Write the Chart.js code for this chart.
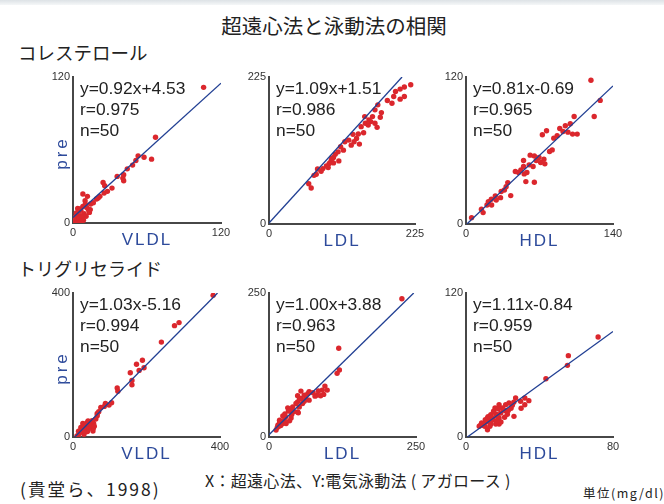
<!DOCTYPE html>
<html>
<head>
<meta charset="utf-8">
<script src="https://cdn.jsdelivr.net/npm/chart.js@4/dist/chart.umd.min.js"></script>
<style>
  html, body { margin: 0; padding: 0; background: #fff; }
  #page { position: relative; width: 664px; height: 504px; overflow: hidden; background: #fff;
          font-family: "Liberation Sans", Arial, sans-serif; }
  .band { position: absolute; left: 0; top: 0; width: 664px; height: 5px;
          background: linear-gradient(#dde2e6, #f5f7f8); }
  .jp { position: absolute; white-space: nowrap; color: #222;
        font-family: "Noto Sans CJK JP", sans-serif; }
  .cv { position: absolute; }
  .eq { position: absolute; white-space: nowrap; font-size: 17.4px; line-height: 21px; color: #222; }
  .xt { position: absolute; white-space: nowrap; font-size: 17px; line-height: 20px; color: #2d4a9b;
        letter-spacing: 2px; transform: translateX(-50%); }
  .yt { position: absolute; white-space: nowrap; font-size: 17px; line-height: 20px; color: #2d4a9b;
        letter-spacing: 3px; transform: translate(-50%, -50%) rotate(-90deg); }
</style>
</head>
<body>
<div id="page">
  <div class="band"></div>
  <div class="jp" style="left:334px;top:12px;font-size:20.5px;line-height:26px;transform:translateX(-50%);">超遠心法と泳動法の相関</div>
  <div class="jp" style="left:18px;top:40px;font-size:18.5px;line-height:24px;">コレステロール</div>
  <div class="jp" style="left:18px;top:256px;font-size:18px;line-height:24px;">トリグリセライド</div>
  <div class="jp" style="left:20px;top:477px;font-size:17.5px;line-height:24px;letter-spacing:2px;">(貴堂ら、1998)</div>
  <div class="jp" style="left:205px;top:469px;font-size:16px;line-height:22px;letter-spacing:0.3px;">X：超遠心法、Y:電気泳動法 ( アガロース )</div>
  <div class="jp" style="left:583px;top:483px;font-size:12.5px;line-height:20px;letter-spacing:1.5px;">単位(mg/dl)</div>
  <div id="panels"></div>
</div>
<script>
// Cholesterol, VLDL fraction
const cholVldlX = [105.9, 66.9, 52.8, 51.0, 57.6, 63.7, 48.3, 41.1, 35.8, 40.4,
                   41.1, 24.4, 25.7, 31.6, 27.9, 25.2, 21.8, 19.1, 8.0, 11.7,
                   9.8, 14.3, 8.0, 11.1, 6.4, 13.3, 4.5, 9.0, 3.2, 6.4,
                   10.6, 1.9, 4.5, 1.1, 3.2, 5.8, 1.9, 16.5, 5.3, 7.2,
                   0.5, 12.5, 2.7, 8.5, 20.4, 14.0, 44.0, 10.0, 3.8, 7.0];
const cholVldlY = [111.5, 70.5, 55.2, 51.4, 54.1, 52.5, 47.6, 39.6, 38.3, 36.9,
                   34.7, 33.3, 30.6, 28.7, 26.0, 24.6, 21.9, 19.7, 23.8, 21.9,
                   18.3, 15.6, 13.7, 12.8, 10.4, 8.7, 9.6, 7.7, 6.8, 6.0,
                   5.5, 4.9, 3.6, 2.2, 1.4, 0.8, 0.5, 16.7, 11.5, 4.1,
                   3.3, 10.9, 8.2, 2.2, 20.5, 11.0, 44.5, 15.5, 12.0, 1.5];

// Cholesterol, LDL fraction
const cholLdlX = [218.4, 208.6, 202.1, 208.6, 202.1, 192.2, 182.4, 189.5, 167.7, 163.3,
                  159.5, 147.5, 171.5, 156.8, 163.3, 148.5, 142.0, 152.9, 166.6, 145.8,
                  137.6, 129.4, 134.9, 122.9, 126.7, 139.3, 131.1, 110.3, 106.5, 102.1,
                  99.4, 95.6, 107.6, 99.4, 92.8, 91.2, 83.0, 74.8, 80.3, 69.4,
                  61.2, 65.0, 195.0, 173.2, 154.0, 116.9, 114.7, 88.5, 72.8, 96.7];
const cholLdlY = [213.2, 209.6, 206.5, 195.2, 191.1, 195.2, 189.0, 184.9, 182.4, 174.7,
                  164.4, 164.4, 163.4, 156.7, 154.1, 154.1, 149.0, 151.5, 147.9, 139.7,
                  137.7, 137.2, 131.0, 128.4, 120.7, 122.3, 125.9, 118.2, 110.4, 106.8,
                  101.7, 96.6, 96.6, 93.5, 92.5, 86.3, 84.8, 84.2, 80.7, 74.5,
                  61.6, 55.0, 202.9, 170.5, 159.2, 125.9, 113.0, 88.9, 76.0, 100.2];

// Cholesterol, HDL fraction
const cholHdlX = [119.0, 127.8, 122.1, 103.0, 99.3, 94.6, 89.3, 97.1, 101.5, 105.9,
                  86.8, 76.7, 72.7, 79.6, 74.2, 75.1, 65.1, 61.1, 69.5, 66.9,
                  71.1, 54.8, 54.8, 60.1, 63.9, 50.1, 55.4, 58.0, 57.0, 65.1,
                  39.8, 36.6, 42.6, 32.9, 27.9, 24.1, 28.8, 24.4, 20.0, 14.7,
                  16.3, 5.3, 47.0, 52.3, 33.5, 21.3, 38.2, 83.6, 92.4, 82.1];
const cholHdlY = [117.3, 100.9, 87.8, 87.8, 81.8, 80.2, 78.0, 75.0, 73.4, 73.4,
                  72.0, 76.1, 72.8, 59.2, 52.9, 49.1, 55.6, 56.2, 54.3, 51.8,
                  50.2, 51.8, 46.9, 48.3, 46.9, 42.0, 40.9, 42.0, 34.6, 34.1,
                  33.8, 27.8, 23.2, 21.5, 22.9, 20.2, 19.6, 15.5, 15.5, 12.0,
                  9.3, 5.2, 42.8, 44.2, 26.5, 18.3, 30.5, 70.1, 75.5, 60.5];

// Triglyceride, VLDL fraction
const tgVldlX = [381.3, 288.6, 276.2, 240.5, 188.9, 172.8, 179.9, 193.3, 155.9, 160.4,
                 160.4, 120.3, 122.1, 88.2, 98.0, 75.7, 65.9, 65.9, 56.1, 39.2,
                 26.7, 21.4, 33.0, 46.3, 55.2, 39.2, 29.8, 10.7, 24.1, 44.5,
                 41.0, 49.9, 36.5, 54.3, 14.3, 18.0, 28.0, 32.0, 48.0, 58.0,
                 35.0, 22.0, 42.0, 62.0, 52.0, 70.0, 85.0, 105.0, 15.0, 30.0];
const tgVldlY = [393.5, 317.8, 309.3, 263.6, 213.1, 201.9, 185.0, 192.5, 178.5, 157.0,
                 144.9, 136.4, 127.1, 93.5, 88.8, 82.2, 65.4, 58.9, 37.4, 40.2,
                 37.4, 26.2, 26.2, 26.2, 24.3, 15.0, 7.5, 2.8, 18.7, 33.6,
                 44.9, 30.8, 21.5, 16.8, 4.5, 12.0, 30.0, 14.0, 40.0, 30.0,
                 36.0, 20.0, 22.0, 50.0, 45.0, 70.0, 85.0, 95.0, 16.0, 24.0];

// Triglyceride, LDL fraction
const tgLdlX = [119.7, 115.8, 90.6, 99.0, 82.2, 87.8, 68.2, 54.3, 59.8, 48.7,
                62.6, 54.3, 68.2, 48.7, 57.0, 45.9, 40.3, 31.9, 51.5, 48.7,
                37.5, 28.0, 23.5, 37.5, 17.9, 23.5, 15.1, 17.9, 226.0, 118.6,
                95.1, 78.3, 38.6, 33.0, 29.1, 16.8, 14.0, 12.0, 84.0, 75.0,
                66.0, 60.0, 42.0, 35.0, 26.0, 20.0, 52.0, 93.0, 27.0, 49.8];
const tgLdlY = [116.3, 110.5, 81.4, 81.4, 72.7, 71.5, 78.5, 79.7, 72.7, 71.5,
                66.9, 66.9, 64.0, 61.0, 58.1, 58.1, 52.3, 50.6, 52.3, 43.6,
                46.5, 34.9, 36.6, 33.1, 29.1, 23.3, 20.3, 25.0, 240.1, 154.1,
                88.4, 70.9, 39.0, 45.0, 23.3, 18.6, 16.3, 12.0, 80.0, 77.0,
                75.0, 62.0, 44.0, 28.0, 29.0, 20.0, 66.0, 74.0, 40.0, 41.9];

// Triglyceride, HDL fraction
const tgHdlX = [34.2, 32.0, 27.0, 29.7, 23.4, 21.6, 18.0, 15.8, 19.8, 25.2,
                21.6, 18.9, 16.2, 13.5, 11.7, 14.4, 18.0, 10.8, 8.1, 13.5,
                16.2, 18.0, 26.1, 11.7, 7.2, 32.0, 71.9, 55.7, 55.2, 43.5,
                10.3, 8.5, 30.0, 12.5, 14.0, 20.5, 22.5, 17.0, 24.5, 9.5,
                26.0, 19.0, 15.0, 12.0, 21.0, 16.5, 23.0, 10.5, 13.0, 17.5];
const tgHdlY = [30.3, 32.5, 32.5, 29.7, 28.3, 26.9, 26.9, 24.2, 24.2, 26.4,
                21.9, 20.0, 19.2, 18.6, 15.8, 15.8, 15.8, 13.1, 10.3, 10.8,
                10.8, 10.8, 17.2, 6.1, 8.9, 26.9, 83.3, 67.8, 59.7, 48.6,
                8.9, 11.7, 24.0, 12.5, 14.0, 22.5, 19.0, 17.5, 24.0, 9.5,
                29.0, 12.5, 21.5, 17.0, 16.5, 13.5, 22.0, 14.5, 9.0, 23.5];

// Axis ranges, regression results and fraction names, one entry per panel
const xMax = [120, 225, 140, 400, 250, 80];
const yMax = [120, 225, 120, 400, 250, 120];
const slopes = [0.92, 1.09, 0.81, 1.03, 1.00, 1.11];
const intercepts = [4.53, 1.51, -0.69, -5.16, 3.88, -0.84];
const rValues = ['0.975', '0.986', '0.965', '0.994', '0.963', '0.959'];
const nValues = [50, 50, 50, 50, 50, 50];
const fractions = ['VLDL', 'LDL', 'HDL', 'VLDL', 'LDL', 'HDL'];

const seriesX = [cholVldlX, cholLdlX, cholHdlX, tgVldlX, tgLdlX, tgHdlX];
const seriesY = [cholVldlY, cholLdlY, cholHdlY, tgVldlY, tgLdlY, tgHdlY];

// Plot-area boxes on the page (left, top, width, height)
const boxes = [
  { l: 73,  t: 77,  w: 148, h: 146 },
  { l: 269, t: 77,  w: 146, h: 147 },
  { l: 466, t: 77,  w: 147, h: 147 },
  { l: 73,  t: 293, w: 147, h: 144 },
  { l: 269, t: 293, w: 147, h: 144 },
  { l: 466, t: 293, w: 147, h: 144 }
];

const Y_AXIS_W = 32, X_AXIS_H = 20, PAD_TOP = 10, PAD_RIGHT = 16;
const AXIS_COLOR = '#474747';
const POINT_COLOR = '#db272d';
const LINE_COLOR = '#213f93';

const holder = document.getElementById('panels');
const page = document.getElementById('page');

function addDiv(cls, text, style) {
  const d = document.createElement('div');
  d.className = cls;
  d.textContent = text;
  Object.assign(d.style, style);
  page.appendChild(d);
  return d;
}

// Fitted line y = a x + b, kept inside the plotted range
function fitLine(a, b, xm, ym) {
  const x0 = Math.max(0, -b / a);
  const x1 = Math.min(xm, (ym - b) / a);
  return [{ x: x0, y: a * x0 + b }, { x: x1, y: a * x1 + b }];
}

boxes.forEach((bx, i) => {
  const cv = document.createElement('canvas');
  const cw = Y_AXIS_W + bx.w + PAD_RIGHT;
  const ch = PAD_TOP + bx.h + X_AXIS_H;
  cv.width = cw; cv.height = ch;
  cv.className = 'cv';
  cv.style.left = (bx.l - Y_AXIS_W) + 'px';
  cv.style.top = (bx.t - PAD_TOP) + 'px';
  cv.style.width = cw + 'px';
  cv.style.height = ch + 'px';
  holder.appendChild(cv);

  const pts = seriesX[i].map((x, k) => ({ x: x, y: seriesY[i][k] }));
  const xm = xMax[i], ym = yMax[i];
  const tickFont = { family: '"Liberation Sans", Arial, sans-serif', size: 11 };

  new Chart(cv, {
    type: 'scatter',
    data: {
      datasets: [
        {
          data: fitLine(slopes[i], intercepts[i], xm, ym),
          showLine: true,
          borderColor: LINE_COLOR,
          borderWidth: 1.3,
          pointRadius: 0,
          pointHoverRadius: 0,
          order: 0
        },
        {
          data: pts,
          backgroundColor: POINT_COLOR,
          borderWidth: 0,
          pointRadius: 2.7,
          pointHoverRadius: 2.7,
          order: 1
        }
      ]
    },
    options: {
      responsive: false,
      animation: false,
      devicePixelRatio: 1,
      events: [],
      layout: { padding: { top: PAD_TOP, right: PAD_RIGHT, left: 0, bottom: 0 } },
      plugins: { legend: { display: false }, tooltip: { enabled: false } },
      scales: {
        x: {
          type: 'linear', min: 0, max: xm,
          grid: { display: false, drawTicks: false },
          border: { display: true, color: AXIS_COLOR, width: 2 },
          afterBuildTicks: s => { s.ticks = [{ value: 0 }, { value: xm }]; },
          afterFit: s => { s.height = X_AXIS_H; },
          ticks: { color: '#333', font: tickFont, padding: 3, maxRotation: 0, autoSkip: false }
        },
        y: {
          type: 'linear', min: 0, max: ym,
          grid: { display: false, drawTicks: false },
          border: { display: true, color: AXIS_COLOR, width: 2 },
          afterBuildTicks: s => { s.ticks = [{ value: 0 }, { value: ym }]; },
          afterFit: s => { s.width = Y_AXIS_W; },
          ticks: { color: '#333', font: tickFont, padding: 3, autoSkip: false }
        }
      }
    }
  });

  // Regression statistics
  const a = slopes[i], b = intercepts[i];
  const eq = 'y=' + a.toFixed(2) + 'x' + (b >= 0 ? '+' : '-') + Math.abs(b).toFixed(2);
  const eqDiv = addDiv('eq', '', { left: (bx.l + 7) + 'px', top: (bx.t + 1) + 'px' });
  [eq, 'r=' + rValues[i], 'n=' + nValues[i]].forEach(line => {
    const ln = document.createElement('div');
    ln.textContent = line;
    eqDiv.appendChild(ln);
  });

  // Fraction name under the x axis
  addDiv('xt', fractions[i], { left: (bx.l + bx.w / 2) + 'px', top: (bx.t + bx.h + 7) + 'px' });

  // "pre" on the left of each row
  if (i % 3 === 0) {
    addDiv('yt', 'pre', { left: '62px', top: (bx.t + bx.h * 0.52) + 'px' });
  }
});
</script>
</body>
</html>
